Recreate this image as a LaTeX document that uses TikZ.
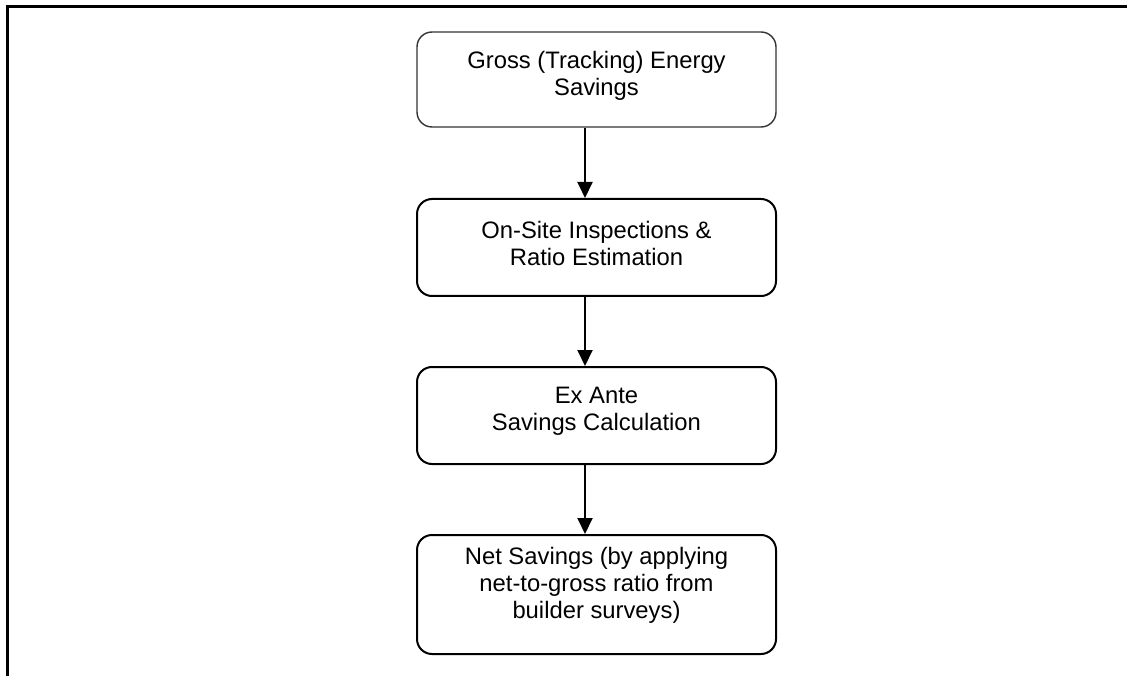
\documentclass[tikz,border=0pt]{standalone}
\usepackage{fontspec}
\setmainfont{Liberation Sans}
\usetikzlibrary{arrows.meta}
\begin{document}
\begin{tikzpicture}[x=1pt,y=-1pt,
  box/.style={draw=black,line width=2pt,rounded corners=15pt,minimum width=359pt,inner sep=0pt},
  lbl/.style={align=center,font=\fontsize{23.8}{27}\selectfont,inner sep=0pt},
  arr/.style={line width=2pt,-{Triangle[width=15pt,length=16pt]}}]
\useasboundingbox (0,0) rectangle (1127,676);
\coordinate (fa) at (7.5,676);
\coordinate (fb) at (7.5,6.5);
\coordinate (fc) at (1127,6.5);
\draw[line width=2.4pt,line cap=rect] (fa) -- (fb) -- (fc);
\node[box,line width=1.4pt,draw=black!80,minimum height=95pt] (b1) at (596.5,79.5) {};
\node[box,minimum height=97pt] (b2) at (596.5,247.5) {};
\node[box,minimum height=97pt] (b3) at (596.5,415.5) {};
\node[box,minimum height=119pt] (b4) at (596.5,594.5) {};
\node[lbl] (t1) at (596.5,76) {Gross (Tracking) Energy\\Savings};
\node[lbl] (t2) at (596.5,243) {On-Site Inspections \&\\Ratio Estimation};
\node[lbl] (t3) at (596.5,411) {Ex Ante\\Savings Calculation};
\node[lbl] (t4) at (596.5,585) {Net Savings (by applying\\net-to-gross ratio from\\builder surveys)};
\draw[arr] ([xshift=-11.5pt]b1.south) -- ([xshift=-11.5pt]b2.north);
\draw[arr] ([xshift=-11.5pt]b2.south) -- ([xshift=-11.5pt]b3.north);
\draw[arr] ([xshift=-11.5pt]b3.south) -- ([xshift=-11.5pt]b4.north);
\end{tikzpicture}
\end{document}
